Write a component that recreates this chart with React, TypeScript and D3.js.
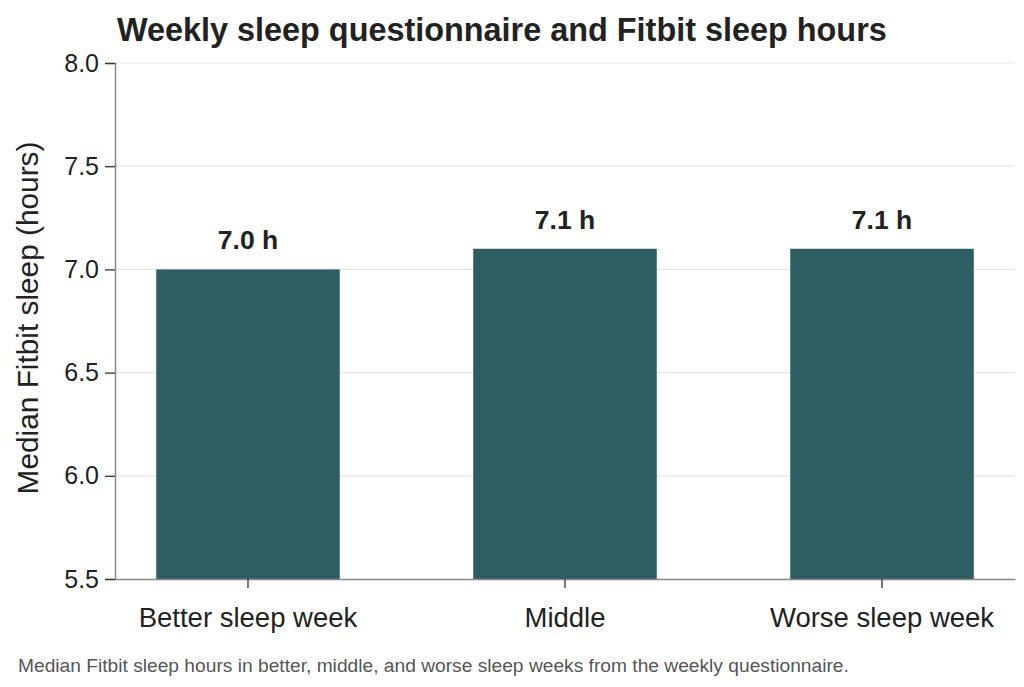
import { useEffect, useRef } from 'react';
import * as d3 from 'd3';

const categories = ['Better sleep week', 'Middle', 'Worse sleep week'];
const medianHours = [7.0, 7.1, 7.1];
const yTicks = [5.5, 6.0, 6.5, 7.0, 7.5, 8.0];

const FONT = '"Liberation Sans", Arial, Helvetica, sans-serif';

export default function App() {
  const svgRef = useRef<SVGSVGElement>(null);
  const width = 1024;
  const height = 687;

  useEffect(() => {
    if (!svgRef.current) return;
    d3.select(svgRef.current).selectAll('*').remove();

    const margin = { top: 63, right: 9, bottom: 108, left: 115 };
    const innerWidth = width - margin.left - margin.right;
    const innerHeight = height - margin.top - margin.bottom;

    const svg = d3.select(svgRef.current);
    const g = svg.append('g').attr('transform', `translate(${margin.left},${margin.top})`);

    const xScale = d3.scaleBand()
      .domain(categories)
      .range([0, innerWidth])
      .paddingInner(0.421)
      .paddingOuter(0.13);

    const yScale = d3.scaleLinear().domain([5.5, 8.0]).range([innerHeight, 0]);

    // Gridlines
    g.selectAll('line.grid')
      .data(yTicks.slice(1))
      .join('line')
      .attr('class', 'grid')
      .attr('x1', 0)
      .attr('x2', innerWidth)
      .attr('y1', d => yScale(d))
      .attr('y2', d => yScale(d))
      .attr('stroke', '#e6e6e6')
      .attr('stroke-width', 1.2);

    // Bars
    g.selectAll('rect.bar')
      .data(medianHours)
      .join('rect')
      .attr('class', 'bar')
      .attr('x', (_, i) => xScale(categories[i]) || 0)
      .attr('y', d => yScale(d))
      .attr('width', xScale.bandwidth())
      .attr('height', d => innerHeight - yScale(d))
      .attr('fill', '#2f5e62');

    // Value labels
    g.selectAll('text.value')
      .data(medianHours)
      .join('text')
      .attr('class', 'value')
      .attr('x', (_, i) => (xScale(categories[i]) || 0) + xScale.bandwidth() / 2)
      .attr('y', d => yScale(d) - 20)
      .attr('text-anchor', 'middle')
      .attr('font-family', FONT)
      .attr('font-size', '26.5px')
      .attr('font-weight', '700')
      .attr('fill', '#222')
      .text(d => `${d.toFixed(1)} h`);

    // Y axis
    const yAxis = g.append('g')
      .call(d3.axisLeft(yScale).tickValues(yTicks).tickFormat(d3.format('.1f')).tickSize(10).tickPadding(6));
    yAxis.select('.domain').attr('stroke', '#888').attr('stroke-width', 1.5);
    yAxis.selectAll('.tick line').attr('stroke', '#333').attr('stroke-width', 1.3);
    yAxis.selectAll('.tick text')
      .attr('font-family', FONT)
      .attr('font-size', '25px')
      .attr('fill', '#222');

    // X axis
    const xAxis = g.append('g')
      .attr('transform', `translate(0,${innerHeight})`)
      .call(d3.axisBottom(xScale).tickSize(9).tickSizeOuter(0).tickPadding(19.5));
    xAxis.select('.domain').attr('stroke', '#888').attr('stroke-width', 1.5);
    xAxis.selectAll('.tick line').attr('stroke', '#333').attr('stroke-width', 1.3);
    xAxis.selectAll('.tick text')
      .attr('font-family', FONT)
      .attr('font-size', '27.5px')
      .attr('fill', '#222');

    // Y axis label
    svg.append('text')
      .attr('transform', 'rotate(-90)')
      .attr('x', -318)
      .attr('y', 38)
      .attr('text-anchor', 'middle')
      .attr('font-family', FONT)
      .attr('font-size', '29.8px')
      .attr('fill', '#222')
      .text('Median Fitbit sleep (hours)');

    // Title
    svg.append('text')
      .attr('x', 117)
      .attr('y', 41)
      .attr('font-family', FONT)
      .attr('font-size', '32.4px')
      .attr('font-weight', '700')
      .attr('fill', '#222')
      .text('Weekly sleep questionnaire and Fitbit sleep hours');

    // Caption
    svg.append('text')
      .attr('x', 18)
      .attr('y', 672)
      .attr('font-family', FONT)
      .attr('font-size', '19.2px')
      .attr('fill', '#555')
      .text('Median Fitbit sleep hours in better, middle, and worse sleep weeks from the weekly questionnaire.');
  }, []);

  return (
    <svg
      ref={svgRef}
      width={width}
      height={height}
      style={{ position: 'absolute', left: 0, top: 0, background: '#fff' }}
    />
  );
}
